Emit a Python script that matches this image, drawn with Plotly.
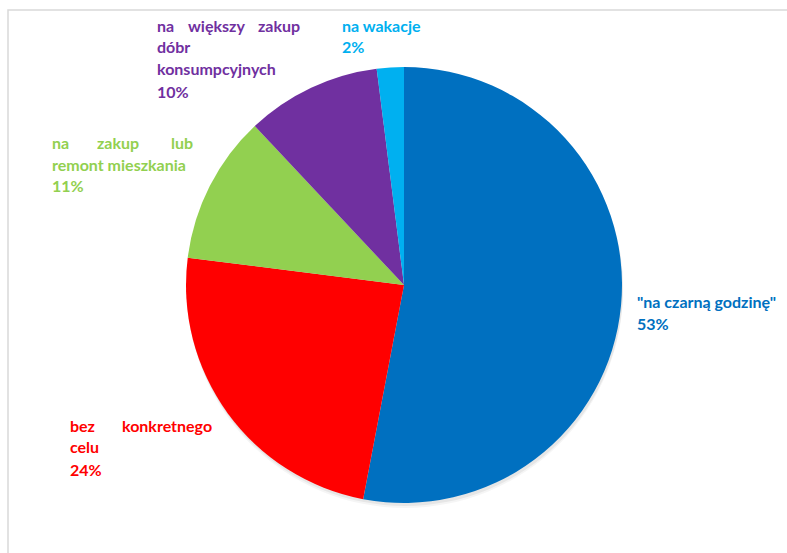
import plotly.graph_objects as go

# Savings purposes (share of respondents, %)
categories = [
    '"na czarną godzinę"',
    "bez konkretnego celu",
    "na zakup lub remont mieszkania",
    "na większy zakup dóbr konsumpcyjnych",
    "na wakacje",
]
values = [53, 24, 11, 10, 2]
colors = ["#0070C0", "#FF0000", "#92D050", "#7030A0", "#00B0F0"]

# Label text broken into lines, as set in the data-label boxes
label_lines = [
    ['"na czarną godzinę"'],
    ["bez konkretnego", "celu"],
    ["na zakup lub", "remont mieszkania"],
    ["na większy zakup", "dóbr", "konsumpcyjnych"],
    ["na wakacje"],
]
# Label boxes in pixels: left, right, first-line y, justified line flags
label_boxes = [
    (635, 780, 301, [False]),
    (68, 214, 425, [True, False]),
    (50, 195, 142, [True, False]),
    (155, 302, 25, [True, False, False]),
    (340, 420, 25, [False]),
]

W, H = 787, 553
LINE = 22
FONT = "Lato"
FSIZE = 16
CHAR_W = 8.3  # rough average glyph width used to spread justified words

fig = go.Figure()

cx, cy, r = 404, 285, 218

# soft drop shadow under the pie
for off, alpha in [(5, 0.04), (3, 0.06)]:
    fig.add_trace(go.Pie(
        values=[sum(values)],
        marker=dict(colors=[f"rgba(0,0,0,{alpha})"], line=dict(width=0)),
        textinfo="none", hoverinfo="skip", sort=False,
        domain=dict(x=[(cx + 1 - r - off / 2) / W, (cx + 1 + r + off / 2) / W],
                    y=[(H - cy - off - r) / H, (H - cy - off + r) / H]),
        showlegend=False,
    ))

fig.add_trace(go.Pie(
    labels=categories,
    values=values,
    marker=dict(colors=colors, line=dict(width=0)),
    sort=False,
    direction="clockwise",
    rotation=0,
    textinfo="none",
    hoverinfo="label+percent",
    domain=dict(x=[(cx - r) / W, (cx + r) / W],
                y=[(H - cy - r) / H, (H - cy + r) / H]),
    showlegend=False,
))


def px(x):
    return x / W


def py(y):
    return 1 - y / H


def ann(x, y, text, anchor, col):
    return dict(
        x=px(x), y=py(y), xref="paper", yref="paper",
        text=text, showarrow=False, xanchor=anchor, yanchor="middle",
        font=dict(family=FONT, size=FSIZE, color=col, weight="bold"),
    )


annotations = []
for lines, (x0, x1, y0, just), val, col in zip(label_lines, label_boxes, values, colors):
    rows = lines + [f"{val}%"]
    flags = just + [False]
    for i, (row, j) in enumerate(zip(rows, flags)):
        y = y0 + i * LINE
        words = row.split(" ")
        if j and len(words) > 1:
            widths = [len(wd) * CHAR_W for wd in words]
            gap = (x1 - x0 - sum(widths)) / (len(words) - 1)
            xpos = x0
            for k, (wd, wl) in enumerate(zip(words, widths)):
                if k == 0:
                    annotations.append(ann(x0, y, wd, "left", col))
                elif k == len(words) - 1:
                    annotations.append(ann(x1, y, wd, "right", col))
                else:
                    annotations.append(ann(xpos + wl / 2, y, wd, "center", col))
                xpos += wl + gap
        else:
            annotations.append(ann(x0, y, row, "left", col))

fig.update_layout(
    width=W, height=H,
    margin=dict(l=0, r=0, t=0, b=0),
    paper_bgcolor="white",
    plot_bgcolor="white",
    annotations=annotations,
    shapes=[dict(type="rect", xref="paper", yref="paper",
                 x0=8 / W, x1=1.02, y0=-0.02, y1=1 - 10 / H,
                 line=dict(color="#d9d9d9", width=1.5))],
)

fig.write_html("out.html")
